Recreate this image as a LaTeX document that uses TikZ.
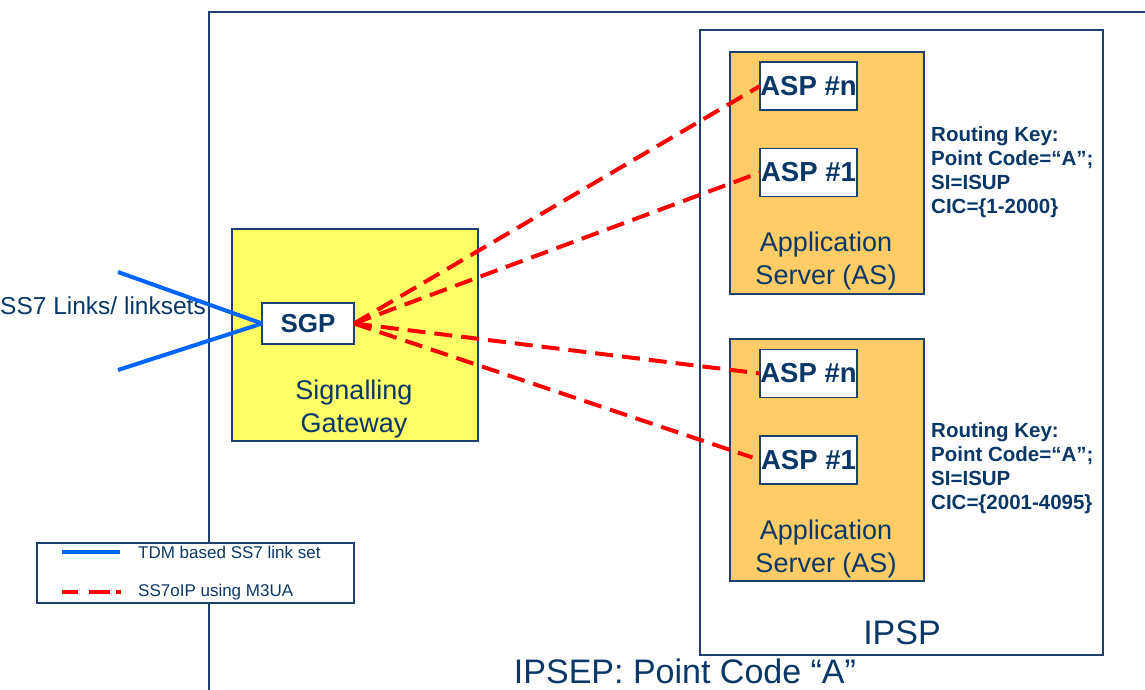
\documentclass[tikz,border=0pt]{standalone}
\usepackage{fontspec}
\setmainfont{Liberation Sans}
\definecolor{navy}{HTML}{0B3768}
\definecolor{framec}{HTML}{1F3F6E}
\definecolor{sgyellow}{HTML}{FFFF66}
\definecolor{asorange}{HTML}{FFCC66}
\definecolor{linkblue}{HTML}{0066FF}
\definecolor{ipred}{HTML}{FF0000}
\begin{document}
\begin{tikzpicture}[x=1pt,y=-1pt,
  box/.style={draw=framec, line width=1.2pt, inner sep=0pt, outer sep=0pt},
  aspbox/.style={box, fill=white, minimum width=97pt, minimum height=48pt,
    font=\fontsize{27.5}{30}\selectfont\bfseries, text=navy},
  asbox/.style={box, fill=asorange, minimum width=194pt, minimum height=242pt},
  lbl/.style={text=navy, align=center, inner sep=0pt},
  rkey/.style={text=navy, align=left, anchor=west, inner sep=0pt,
    font=\fontsize{20.5}{24}\selectfont\bfseries},
  tdm/.style={draw=linkblue, line width=4pt},
  m3ua/.style={draw=ipred, line width=4pt, dash pattern=on 18pt off 9pt}
]
\useasboundingbox (0,0) rectangle (1145,690);
% outer IPSEP frame
\draw[framec, line width=1.2pt] (1150,12) -- (209,12) -- (209,695);
\node[lbl, font=\fontsize{34}{38}\selectfont] (ipseplbl) at (685,671) {IPSEP: Point Code “A”};
% IPSP
\node[box, fill=white, minimum width=403pt, minimum height=625pt] (ipsp) at (901.5,342.5) {};
\node[lbl, font=\fontsize{34}{38}\selectfont] (ipsplbl) at (902,633) {IPSP};
% Application servers
\node[asbox] (as1) at (827,173) {};
\node[asbox] (as2) at (827,460) {};
\node[lbl, font=\fontsize{27}{32.5}\selectfont] (as1lbl) at (826,261) {Application\\Server (AS)};
\node[lbl, font=\fontsize{27}{32.5}\selectfont] (as2lbl) at (826,549) {Application\\Server (AS)};
\node[aspbox] (aspna) at (808.5,86) {ASP \#n};
\node[aspbox] (asp1a) at (808.5,172.5) {ASP \#1};
\node[aspbox] (aspnb) at (808.5,373.5) {ASP \#n};
\node[aspbox] (asp1b) at (808.5,460) {ASP \#1};
\node[rkey] (rk1) at (931,172) {Routing Key:\\Point Code=“A”;\\SI=ISUP\\CIC=\{1-2000\}};
\node[rkey] (rk2) at (931,468) {Routing Key:\\Point Code=“A”;\\SI=ISUP\\CIC=\{2001-4095\}};
% Signalling gateway
\node[box, fill=sgyellow, minimum width=246pt, minimum height=212pt] (sg) at (355,335) {};
\node[lbl, font=\fontsize{27}{32.5}\selectfont] (sglbl) at (354,409) {Signalling\\Gateway};
\node[box, fill=white, minimum width=92pt, minimum height=41pt,
  font=\fontsize{26}{30}\selectfont\bfseries, text=navy] (sgp) at (308,323.5) {SGP};
% SS7 links
\node[lbl, font=\fontsize{24.5}{28}\selectfont, anchor=west] (ss7lbl) at (0,306) {SS7 Links/ linksets};
\coordinate (l1) at (118,272);
\coordinate (l2) at (118,370);
\draw[tdm] (l1) -- (sgp.west);
\draw[tdm] (l2) -- (sgp.west);
% M3UA associations
\draw[m3ua] (sgp.east) -- (aspna.west);
\draw[m3ua] (sgp.east) -- (asp1a.west);
\draw[m3ua] (sgp.east) -- (aspnb.west);
\draw[m3ua, shorten >=8pt] (sgp.east) -- (asp1b.west);
% legend
\node[box, fill=white, minimum width=317pt, minimum height=60pt] (legend) at (195.5,573) {};
\coordinate (la1) at (62,552);
\coordinate (lb1) at (120,552);
\coordinate (la2) at (62,592);
\coordinate (lb2) at (121,592);
\draw[tdm] (la1) -- (lb1);
\draw[m3ua, dash pattern=on 16pt off 11pt on 21pt off 6pt on 5pt off 10pt] (la2) -- (lb2);
\node[lbl, anchor=west, font=\fontsize{17}{20}\selectfont] (lt1) at (138,552) {TDM based SS7 link set};
\node[lbl, anchor=west, font=\fontsize{17}{20}\selectfont] (lt2) at (138,592) {SS7oIP using M3UA};
\end{tikzpicture}
\end{document}
